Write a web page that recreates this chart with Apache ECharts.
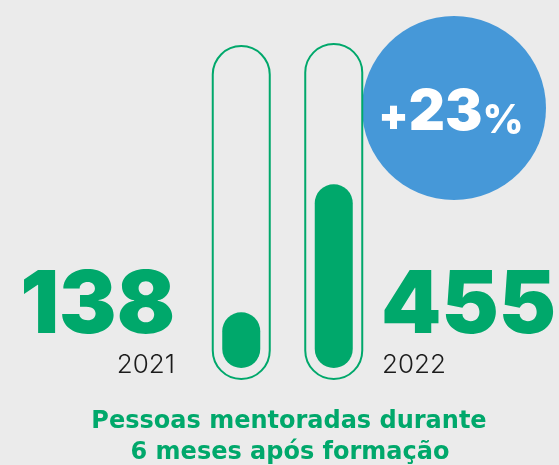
<!DOCTYPE html>
<html>
<head>
<meta charset="utf-8">
<script src="https://cdn.jsdelivr.net/npm/echarts@6/dist/echarts.min.js"></script>
<style>
  html, body { margin: 0; padding: 0; background: #EBEBEB; }
  #chart { width: 559px; height: 465px; }
</style>
</head>
<body>
<div id="chart"></div>
<script>
// anos e valores
const years = ["2021", "2022"];
const values = [138, 455];
// altura dos tubos (escala do eixo)
const tubeValues = [795, 800];
const axisMax = 800;
const growthLabel = "+23%";
const subtitleLines = ["Pessoas mentoradas durante", "6 meses após formação"];

const green = "#00A86B";
const blue = "#4698D8";

const chart = echarts.init(document.getElementById("chart"));

const option = {
  backgroundColor: "#EBEBEB",
  animation: false,
  grid: [
    // tubos
    { left: 195, width: 185, top: 43, bottom: 85 },
    // barras de preenchimento
    { left: 195, width: 185, top: 45, bottom: 97 },
  ],
  xAxis: [
    { type: "category", data: years, gridIndex: 0, show: false },
    { type: "category", data: years, gridIndex: 1, show: false },
  ],
  yAxis: [
    { type: "value", min: 0, max: axisMax, gridIndex: 0, show: false },
    { type: "value", min: 0, max: axisMax, gridIndex: 1, show: false },
  ],
  series: [
    {
      type: "bar",
      xAxisIndex: 0,
      yAxisIndex: 0,
      data: tubeValues,
      barWidth: 59,
      z: 3,
      itemStyle: {
        color: "rgba(0,0,0,0)",
        borderColor: green,
        borderWidth: 2,
        borderRadius: 30,
      },
      silent: true,
    },
    {
      type: "bar",
      xAxisIndex: 1,
      yAxisIndex: 1,
      data: values,
      barWidth: 38,
      z: 4,
      itemStyle: {
        color: green,
        borderRadius: 19,
      },
      silent: true,
    },
  ],
  graphic: [
    // círculo azul
    {
      type: "circle",
      z: 1,
      shape: { cx: 454, cy: 108, r: 92 },
      style: { fill: blue },
    },
    {
      type: "text",
      z: 5,
      x: 451,
      y: 141,
      style: {
        text: "{s|" + growthLabel.slice(0, 1) + "}{b|" + growthLabel.slice(1, -1) + "}{p|%}",
        align: "center",
        verticalAlign: "bottom",
        fill: "#fff",
        rich: {
          b: { fontFamily: "Inter", fontWeight: 900, fontSize: 56, fill: "#fff", verticalAlign: "bottom", lineHeight: 60 },
          s: { fontFamily: "Inter", fontWeight: 900, fontSize: 44, fill: "#fff", verticalAlign: "bottom", lineHeight: 60, padding: [0, 0, 2, 0] },
          p: { fontFamily: "Inter", fontWeight: 800, fontSize: 40, fill: "#fff", verticalAlign: "bottom", lineHeight: 60 },
        },
      },
    },
    // valores grandes
    {
      type: "text",
      z: 5,
      x: 175,
      y: 307,
      style: {
        text: String(values[0]),
        align: "right",
        verticalAlign: "middle",
        fill: green,
        font: "900 86px Inter",
      },
    },
    {
      type: "text",
      z: 5,
      x: 381,
      y: 307,
      style: {
        text: String(values[1]),
        align: "left",
        verticalAlign: "middle",
        fill: green,
        font: "900 86px Inter",
      },
    },
    // anos
    {
      type: "text",
      z: 5,
      x: 175,
      y: 365,
      style: {
        text: years[0],
        align: "right",
        verticalAlign: "middle",
        fill: "#1B1B1B",
        font: "300 26px Inter",
      },
    },
    {
      type: "text",
      z: 5,
      x: 382,
      y: 365,
      style: {
        text: years[1],
        align: "left",
        verticalAlign: "middle",
        fill: "#1B1B1B",
        font: "300 26px Inter",
      },
    },
    // subtítulo
    {
      type: "text",
      z: 5,
      x: 289,
      y: 422,
      style: {
        text: subtitleLines[0],
        align: "center",
        verticalAlign: "middle",
        fill: green,
        font: "bold 24px 'DejaVu Sans'",
      },
    },
    {
      type: "text",
      z: 5,
      x: 290,
      y: 453,
      style: {
        text: subtitleLines[1],
        align: "center",
        verticalAlign: "middle",
        fill: green,
        font: "bold 24px 'DejaVu Sans'",
      },
    },
  ],
};

chart.setOption(option);
</script>
</body>
</html>
